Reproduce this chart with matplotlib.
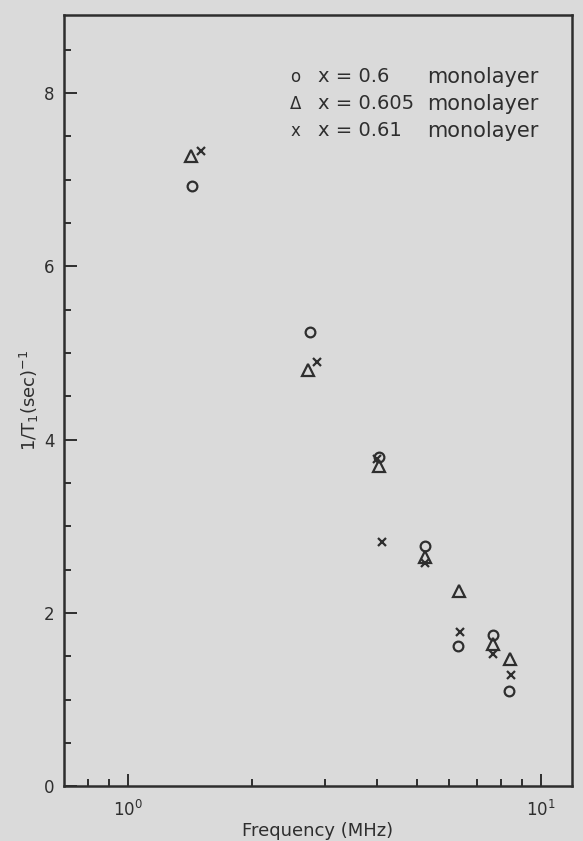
import matplotlib.pyplot as plt
import numpy as np
from matplotlib.ticker import FixedLocator, NullFormatter

# frequency (MHz) and relaxation rate 1/T1 (1/sec)
f_06 = [1.43, 2.76, 4.05, 5.24, 6.30, 7.65, 8.40]
r_06 = [6.93, 5.24, 3.80, 2.77, 1.62, 1.75, 1.10]

f_0605 = [1.42, 2.73, 4.05, 5.24, 6.33, 7.65, 8.41]
r_0605 = [7.27, 4.80, 3.70, 2.65, 2.25, 1.64, 1.47]

f_061 = [1.50, 2.87, 4.02, 4.12, 5.24, 6.36, 7.65, 8.45]
r_061 = [7.33, 4.90, 3.78, 2.82, 2.58, 1.78, 1.53, 1.28]

legend_sym = ['o', r'$\Delta$', 'x']
legend_x = ['x = 0.6', 'x = 0.605', 'x = 0.61']
legend_film = ['monolayer', 'monolayer', 'monolayer']

ink = '#2e2e2e'
plt.rcParams['font.family'] = ['DejaVu Sans']

fig = plt.figure(figsize=(5.83, 8.41), dpi=100, facecolor='#dadada')
ax = fig.add_axes([0.11, 0.065, 0.871, 0.917])
ax.set_facecolor('#dadada')

ax.plot(f_06, r_06, 'o', mfc='none', mec=ink, mew=1.6, ms=7)
ax.plot(f_0605, r_0605, '^', mfc='none', mec=ink, mew=1.6, ms=8)
ax.plot(f_061, r_061, 'x', color=ink, mew=1.6, ms=5.5)

ax.set_xscale('log')
ax.set_xlim(0.7, 11.9)
ax.set_ylim(0, 8.9)

ax.xaxis.set_major_locator(FixedLocator([1, 10]))
ax.xaxis.set_minor_locator(FixedLocator([0.8, 0.9, 2, 3, 4, 5, 6, 7, 8, 9]))
ax.xaxis.set_minor_formatter(NullFormatter())
ax.set_xticklabels([r'10$^0$', r'10$^1$'])
ax.set_yticks([0, 2, 4, 6, 8])
ax.set_yticks(np.arange(0.5, 8.9, 0.5), minor=True)

ax.tick_params(which='both', direction='in', top=False, right=False,
               colors=ink, labelsize=12, width=1.4)
ax.tick_params(which='major', length=9)
ax.tick_params(which='minor', length=5)
ax.tick_params(axis='y', which='major', pad=7)
ax.tick_params(axis='x', which='major', pad=10)
for s in ax.spines.values():
    s.set_color(ink)
    s.set_linewidth(1.8)

ax.set_xlabel('Frequency (MHz)', fontsize=13, color=ink, labelpad=1)
ax.set_ylabel(r'1/T$_1$(sec)$^{-1}$', fontsize=13, color=ink, labelpad=2)

# legend written as text, like the original
for i in range(3):
    y = 0.92 - i * 0.035
    ax.text(0.455, y, legend_sym[i], transform=ax.transAxes, fontsize=12,
            color=ink, ha='center', va='center')
    ax.text(0.5, y, legend_x[i], transform=ax.transAxes, fontsize=14,
            color=ink, va='center')
    ax.text(0.715, y, legend_film[i], transform=ax.transAxes, fontsize=15,
            color=ink, va='center')

plt.savefig('out.png', dpi=100, facecolor='#dadada')
